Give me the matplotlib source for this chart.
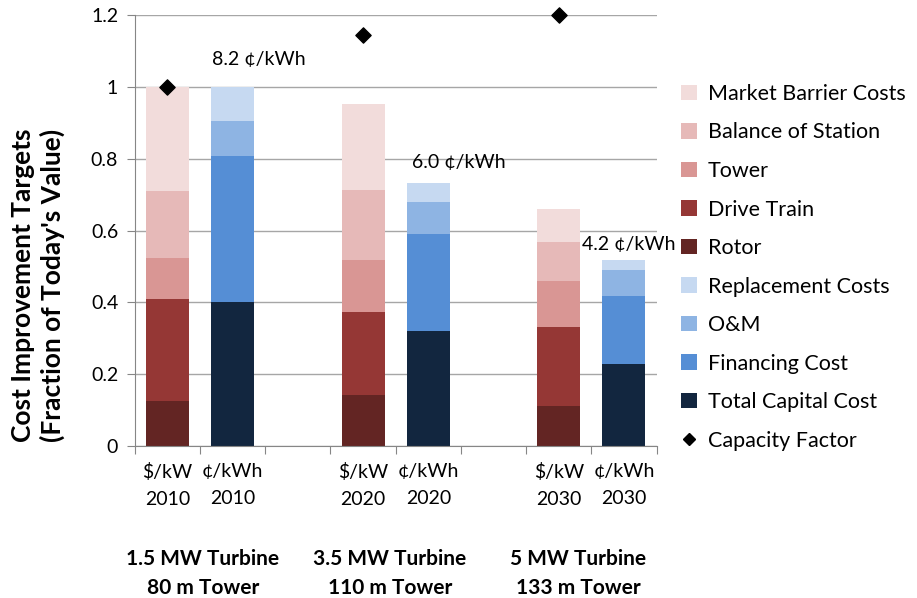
import matplotlib
matplotlib.use("Agg")
import matplotlib.pyplot as plt
from matplotlib.patches import Patch
from matplotlib.lines import Line2D

plt.rcParams['font.family'] = ['Lato', 'DejaVu Sans']

# Category slots (blank slots separate the turbine groups)
tick_labels = ["$/kW\n2010", "¢/kWh\n2010", "", "$/kW\n2020", "¢/kWh\n2020", "", "$/kW\n2030", "¢/kWh\n2030"]
dollar_pos = [0, 3, 6]
cent_pos = [1, 4, 7]

# $/kW bars (fraction of today's value)
rotor = [0.126, 0.142, 0.113]
drive_train = [0.283, 0.231, 0.218]
tower = [0.114, 0.145, 0.128]
balance_of_station = [0.187, 0.194, 0.109]
market_barrier = [0.290, 0.239, 0.091]

# c/kWh bars
total_capital = [0.401, 0.321, 0.229]
financing = [0.407, 0.268, 0.188]
om = [0.096, 0.090, 0.073]
replacement = [0.096, 0.053, 0.028]

capacity_factor = [1.0, 1.143, 1.199]

coe_labels = ["8.2 ¢/kWh", "6.0 ¢/kWh", "4.2 ¢/kWh"]
coe_label_y = [1.075, 0.788, 0.562]
group_labels = ["1.5 MW Turbine\n80 m Tower", "3.5 MW Turbine\n110 m Tower", "5 MW Turbine\n133 m Tower"]

dollar_series = [("Rotor", rotor, "#632523"), ("Drive Train", drive_train, "#953735"),
                 ("Tower", tower, "#D99694"), ("Balance of Station", balance_of_station, "#E6B9B8"),
                 ("Market Barrier Costs", market_barrier, "#F2DCDB")]
cent_series = [("Total Capital Cost", total_capital, "#12263F"), ("Financing Cost", financing, "#558ED5"),
               ("O&M", om, "#8EB4E3"), ("Replacement Costs", replacement, "#C6D9F1")]

fig = plt.figure(figsize=(9.17, 5.98), dpi=100)
ax = fig.add_axes([0.147, 0.254, 0.569, 0.721])

w = 0.66
handles = {}
bottom = [0.0] * 3
for name, vals, col in dollar_series:
    ax.bar(dollar_pos, vals, width=w, bottom=bottom, color=col, zorder=2)
    handles[name] = Patch(facecolor=col)
    bottom = [b + v for b, v in zip(bottom, vals)]
bottom = [0.0] * 3
for name, vals, col in cent_series:
    ax.bar(cent_pos, vals, width=w, bottom=bottom, color=col, zorder=2)
    handles[name] = Patch(facecolor=col)
    bottom = [b + v for b, v in zip(bottom, vals)]

ax.scatter(dollar_pos, capacity_factor, marker="D", s=60, color="black", zorder=3, clip_on=False)
handles["Capacity Factor"] = Line2D([], [], marker="D", color="black", linestyle="none", markersize=6)

label_offsets = [-0.315, -0.254, -0.65]
for p, off, y, t in zip(cent_pos, label_offsets, coe_label_y, coe_labels):
    ax.text(p + off, y, t, ha="left", va="center", fontsize=14, clip_on=False)

ax.set_xlim(-0.5, 7.5)
ax.set_ylim(0, 1.2)
ax.set_yticks([0, 0.2, 0.4, 0.6, 0.8, 1.0, 1.2])
ax.set_yticklabels(["0", "0.2", "0.4", "0.6", "0.8", "1", "1.2"], fontsize=14)
ax.yaxis.grid(True, color="#A6A6A6", linewidth=1, zorder=0)
ax.set_axisbelow(True)

ax.set_xticks([i - 0.5 for i in range(9)])
ax.set_xticklabels([])
ax.set_xticks(list(range(8)), minor=True)
ax.set_xticklabels(tick_labels, minor=True, fontsize=14, linespacing=1.75)
ax.tick_params(axis="x", which="major", length=6, color="#868686", direction="out")
ax.tick_params(axis="x", which="minor", length=0, pad=12)
ax.tick_params(axis="y", length=6, color="#868686", pad=6)

for s in ["top", "right"]:
    ax.spines[s].set_visible(False)
for s in ["left", "bottom"]:
    ax.spines[s].set_color("#868686")

fig.text(38 / 917, 1 - 285 / 598, "Cost Improvement Targets\n(Fraction of Today's Value)", rotation=90,
         ha="center", va="center", fontsize=19, fontweight="bold", linespacing=1.2)

group_x = [0.546, 3.41, 6.3]
for x, t in zip(group_x, group_labels):
    ax.text(x, -0.355, t, ha="center", va="center", fontsize=15, fontweight="bold", linespacing=1.6,
            clip_on=False)

order = ["Market Barrier Costs", "Balance of Station", "Tower", "Drive Train", "Rotor",
         "Replacement Costs", "O&M", "Financing Cost", "Total Capital Cost", "Capacity Factor"]
fig.legend([handles[k] for k in order], order, loc="upper left", bbox_to_anchor=(0.733, 0.874),
           frameon=False, fontsize=15.5, labelspacing=0.86, handlelength=0.75, handleheight=0.75,
           handletextpad=0.5, borderaxespad=0)

fig.savefig("out.png", dpi=100)
